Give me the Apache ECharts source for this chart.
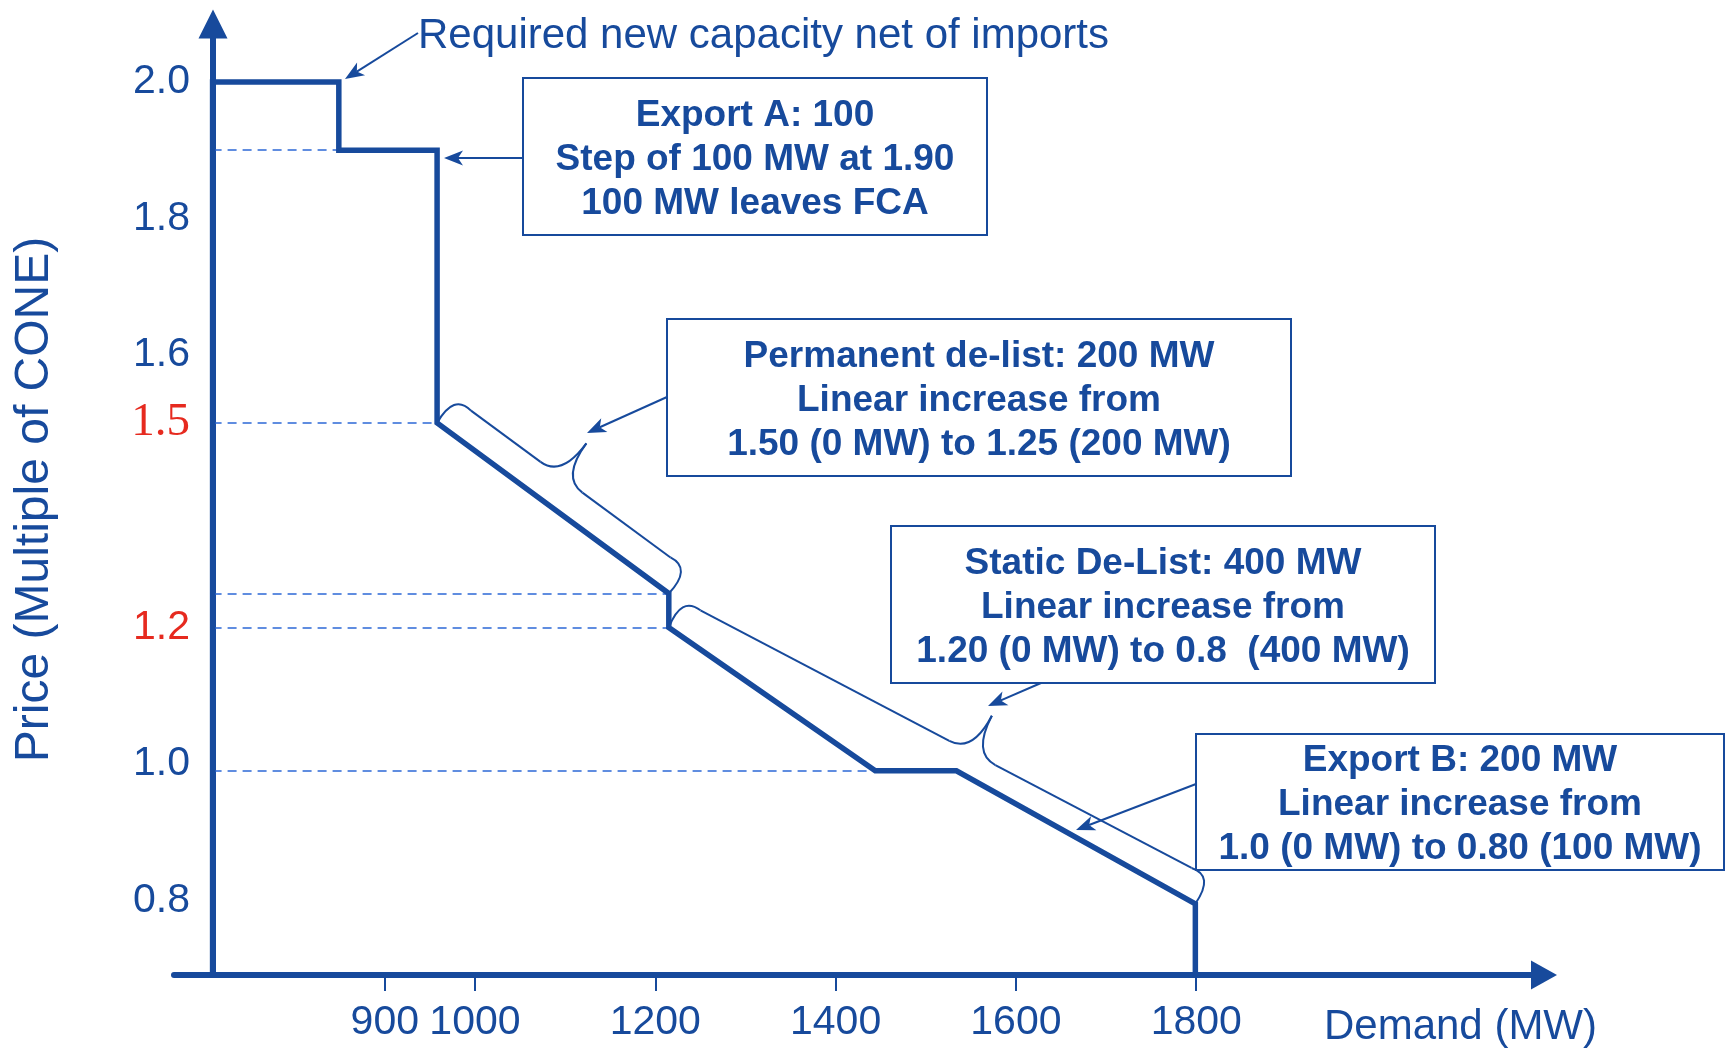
<!DOCTYPE html>
<html><head><meta charset="utf-8">
<script src="https://cdn.jsdelivr.net/npm/echarts@6/dist/echarts.min.js"></script>
<style>html,body{margin:0;padding:0;background:#fff}#c{width:1727px;height:1049px}</style>
</head><body><div id="c"></div>
<script>
// ---- data ----
const demandMW  = [709, 709, 849, 849, 958, 958, 1215, 1215, 1444, 1534, 1799, 1799];
const priceCONE = [0.69, 2.0, 2.0, 1.9, 1.9, 1.5, 1.25, 1.2, 0.99, 0.99, 0.795, 0.69];
const xTickValues = [900, 1000, 1200, 1400, 1600, 1800];
const yTickValues = [0.8, 1.0, 1.2, 1.5, 1.6, 1.8, 2.0];
const guidePointIndex = [3, 5, 6, 7, 8];          // dashed guides to these curve points
const bracePoints = [[5, 6], [7, 10]];            // braces span these curve points
const calloutTexts = [
  'Export A: 100\nStep of 100 MW at 1.90\n100 MW leaves FCA',
  'Permanent de-list: 200 MW\nLinear increase from\n1.50 (0 MW) to 1.25 (200 MW)',
  'Static De-List: 400 MW\nLinear increase from\n1.20 (0 MW) to 0.8  (400 MW)',
  'Export B: 200 MW\nLinear increase from\n1.0 (0 MW) to 0.80 (100 MW)'
];

// ---- styles / layout ----
const blue = '#174A9C', guideBlue = '#2D68D6', red = '#E62A1F';
const SANS = '"Liberation Sans", Arial, Helvetica, sans-serif';
const braceTip = [0.46, 0.55];

const curve = demandMW.map((x, i) => [x, priceCONE[i]]);
const guides = guidePointIndex.map(i => [
  { coord: [demandMW[0], priceCONE[i]] },
  { coord: [demandMW[i], priceCONE[i]] }
]);
const braceData = bracePoints.map(([a, b]) => [demandMW[a], priceCONE[a], demandMW[b], priceCONE[b]]);

function renderBrace(params, api) {
  const A = api.coord([api.value(0), api.value(1)]);
  const B = api.coord([api.value(2), api.value(3)]);
  const dx = B[0] - A[0], dy = B[1] - A[1], L = Math.hypot(dx, dy);
  const ux = dx / L, uy = dy / L, nx = uy, ny = -ux;
  const P = (s, p) => [A[0] + ux * s + nx * p, A[1] + uy * s + ny * p];
  const o = 30, h = 72, r = 20, w = 26, sm = braceTip[params.dataIndex] * L;
  const st = { stroke: blue, lineWidth: 2, fill: 'none' };
  const bz = (p1, c, p2) => ({ type: 'bezierCurve', shape: { x1: p1[0], y1: p1[1], x2: p2[0], y2: p2[1], cpx1: c[0], cpy1: c[1] }, style: st });
  const ln = (p1, p2) => ({ type: 'line', shape: { x1: p1[0], y1: p1[1], x2: p2[0], y2: p2[1] }, style: st });
  return { type: 'group', children: [
    bz(A, P(-4, o + 4), P(r, o)),
    ln(P(r, o), P(sm - w, o)),
    bz(P(sm - w, o), P(sm, o), P(sm, h)),
    bz(P(sm, h), P(sm, o), P(sm + w, o)),
    ln(P(sm + w, o), P(L - r, o)),
    bz(P(L - r, o), P(L + 4, o + 4), B)
  ]};
}

function arrow(x1, y1, x2, y2) {
  const ang = Math.atan2(y2 - y1, x2 - x1), c = Math.cos(ang), s = Math.sin(ang);
  const len = 19, hw = 7.5, notch = 5;
  const pt = (a, b) => [x2 + a * c - b * s, y2 + a * s + b * c];
  const e = pt(-len + notch, 0);
  return [
    { type: 'line', z: 20, shape: { x1, y1, x2: e[0], y2: e[1] }, style: { stroke: blue, lineWidth: 2 } },
    { type: 'polygon', z: 20, shape: { points: [pt(0, 0), pt(-len, hw), pt(-len + notch, 0), pt(-len, -hw)] }, style: { fill: blue } }
  ];
}

function box(x, y, w, h, text) {
  return [
    { type: 'rect', z: 20, shape: { x, y, width: w, height: h }, style: { fill: '#fff', stroke: blue, lineWidth: 2 } },
    { type: 'text', z: 21, x: x + w / 2, y: y + h / 2 + 3, style: { text, fill: blue, font: 'bold 37px ' + SANS, align: 'center', verticalAlign: 'middle', lineHeight: 44 } }
  ];
}

const graphics = [].concat(
  [{ type: 'text', z: 20, x: 418, y: 36, style: { text: 'Required new capacity net of imports', fill: blue, font: '42px ' + SANS, align: 'left', verticalAlign: 'middle' } }],
  arrow(418, 33, 345, 79),
  box(523, 78, 464, 157, calloutTexts[0]),
  arrow(523, 158, 444, 158),
  box(667, 319, 624, 157, calloutTexts[1]),
  arrow(667, 397, 587, 433),
  box(891, 526, 544, 157, calloutTexts[2]),
  arrow(1041, 683, 988, 706),
  box(1196, 734, 528, 136, calloutTexts[3]),
  arrow(1196, 784, 1076, 830)
);

const chart = echarts.init(document.getElementById('c'), null, { renderer: 'canvas' });
chart.setOption({
  animation: false,
  backgroundColor: '#fff',
  grid: { left: 174, top: 24, width: 1370, height: 951, containLabel: false, outerBoundsMode: 'none' },
  xAxis: {
    type: 'value', min: 666.2, max: 2185.7,
    name: 'Demand (MW)', nameLocation: 'end', nameGap: 53, nameMoveOverlap: false,
    nameTextStyle: { color: blue, fontSize: 42, fontFamily: SANS, align: 'right', verticalAlign: 'top', padding: [31, 0, 0, 0] },
    axisLine: { onZero: false, symbol: ['none', 'triangle'], symbolSize: [29, 26], lineStyle: { color: blue, width: 6 } },
    axisTick: { show: true, customValues: xTickValues, length: 16, lineStyle: { color: blue, width: 2 } },
    axisLabel: { customValues: xTickValues, formatter: v => String(v), color: blue, fontSize: 41, fontFamily: SANS, margin: 27 },
    splitLine: { show: false }
  },
  yAxis: {
    type: 'value', min: 0.6906, max: 2.085, offset: -39,
    name: 'Price (Multiple of CONE)', nameLocation: 'middle', nameGap: 154, nameMoveOverlap: false,
    nameTextStyle: { color: blue, fontSize: 48, fontFamily: SANS },
    axisLine: { show: true, onZero: false, symbol: ['none', 'triangle'], symbolSize: [29, 29], lineStyle: { color: blue, width: 6 } },
    axisTick: { show: false },
    axisLabel: {
      customValues: yTickValues, color: blue, fontSize: 41, fontFamily: SANS, margin: 23,
      formatter: v => Math.abs(v - 1.5) < 1e-6 ? '{s|1.5}' : Math.abs(v - 1.2) < 1e-6 ? '{r|1.2}' : v.toFixed(1),
      rich: {
        s: { color: red, fontSize: 47, fontFamily: '"Liberation Serif", "Times New Roman", serif' },
        r: { color: red, fontSize: 41, fontFamily: SANS }
      }
    },
    splitLine: { show: false }
  },
  series: [
    {
      type: 'line', data: curve, symbol: 'none', z: 10,
      lineStyle: { color: blue, width: 5.5, join: 'miter' },
      markLine: {
        silent: true, symbol: ['none', 'none'], label: { show: false },
        lineStyle: { color: guideBlue, width: 1.6, type: [9, 6] },
        data: guides, z: 5
      }
    },
    {
      type: 'custom', data: braceData, renderItem: renderBrace, z: 8, silent: true,
      encode: { x: [0, 2], y: [1, 3] }
    }
  ],
  graphic: graphics
});
</script>
</body></html>
